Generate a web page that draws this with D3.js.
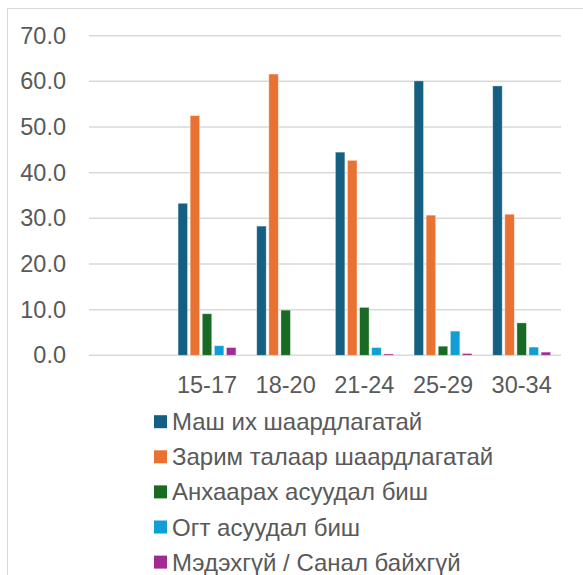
<!DOCTYPE html>
<html>
<head>
<meta charset="utf-8">
<script src="https://cdn.jsdelivr.net/npm/d3@7"></script>
<style>
  html, body { margin: 0; padding: 0; background: #fff; }
  svg { display: block; font-family: "Liberation Sans", Arial, sans-serif; }
</style>
</head>
<body>
<div id="chart"></div>
<script>
// age groups (the first slot is empty in the original)
const categories = ["", "15-17", "18-20", "21-24", "25-29", "30-34"];
const seriesNames = [
  "Маш их шаардлагатай",
  "Зарим талаар шаардлагатай",
  "Анхаарах асуудал биш",
  "Огт асуудал биш",
  "Мэдэхгүй / Санал байхгүй"
];
const colors = ["#156082", "#e97132", "#196b24", "#0f9ed5", "#a02b93"];
// values per series, one per category
const veryNeeded   = [null, 33.3, 28.3, 44.5, 60.1, 59.0];
const someNeeded   = [null, 52.5, 61.6, 42.7, 30.7, 30.9];
const noAttention  = [null, 9.1, 9.9, 10.5, 2.0, 7.1];
const notAtAll     = [null, 2.1, 0, 1.7, 5.3, 1.8];
const dontKnow     = [null, 1.7, 0, 0.3, 0.4, 0.7];
const yTicks = [0, 10, 20, 30, 40, 50, 60, 70];

const seriesValues = [veryNeeded, someNeeded, noAttention, notAtAll, dontKnow];

const width = 583;
const height = 575;
const fontSize = "23.5px";

const svg = d3.select("#chart").append("svg")
  .attr("width", width)
  .attr("height", height);

// chart frame (cut off at right and bottom)
svg.append("rect")
  .attr("x", 7.5)
  .attr("y", 8.5)
  .attr("width", 700)
  .attr("height", 700)
  .attr("fill", "none")
  .attr("stroke", "#d9d9d9")
  .attr("stroke-width", 1);

const x0 = d3.scaleBand()
  .domain(categories)
  .range([89, 561]);

const x1 = d3.scaleBand()
  .domain(seriesNames)
  .range([x0.bandwidth() * 0.132, x0.bandwidth() * 0.868])
  .paddingInner(0.215);

const y = d3.scaleLinear()
  .domain([0, 70])
  .range([355.3, 35.7]);

// gridlines
svg.append("g")
  .selectAll("line")
  .data(yTicks)
  .enter()
    .append("line")
    .attr("x1", 89)
    .attr("x2", 561)
    .attr("y1", d => y(d))
    .attr("y2", d => y(d))
    .attr("stroke", "#d9d9d9")
    .attr("stroke-width", 1.5);

// y labels
svg.append("g")
  .selectAll("text")
  .data(yTicks)
  .enter()
    .append("text")
    .text(d => d.toFixed(1))
    .attr("x", 66)
    .attr("y", d => y(d))
    .attr("dominant-baseline", "central")
    .attr("fill", "#595959")
    .style("text-anchor", "end")
    .style("font-size", fontSize);

// bars
const group = svg.append("g")
  .selectAll("g")
  .data(categories.map((c, i) => ({ cat: c, i })))
  .enter()
    .append("g")
    .attr("transform", d => `translate(${x0(d.cat)},0)`);

group.selectAll("rect")
  .data(d => seriesNames.map((s, k) => ({ s, k, v: seriesValues[k][d.i] })).filter(e => e.v != null))
  .enter()
    .append("rect")
    .attr("x", d => x1(d.s))
    .attr("y", d => y(d.v))
    .attr("width", x1.bandwidth())
    .attr("height", d => y(0) - y(d.v))
    .attr("fill", d => colors[d.k])
    .attr("stroke", "#ffffff")
    .attr("stroke-opacity", 0.5)
    .attr("stroke-width", 0.75);

// x labels
svg.append("g")
  .selectAll("text")
  .data(categories)
  .enter()
    .append("text")
    .text(d => d)
    .attr("x", d => x0(d) + x0.bandwidth() / 2)
    .attr("y", 384.5)
    .attr("dominant-baseline", "central")
    .attr("fill", "#595959")
    .style("text-anchor", "middle")
    .style("font-size", fontSize);

// legend
const legend = svg.append("g")
  .selectAll("g")
  .data(seriesNames)
  .enter()
    .append("g")
    .attr("transform", (d, i) => `translate(154,${421.7 + i * 35.1})`);

legend.append("rect")
  .attr("x", 0)
  .attr("y", -6.5)
  .attr("width", 13)
  .attr("height", 13)
  .attr("fill", (d, i) => colors[i]);

legend.append("text")
  .text(d => d)
  .attr("x", 18)
  .attr("y", 0)
  .attr("dominant-baseline", "central")
  .attr("fill", "#595959")
  .style("font-size", "24px");
</script>
</body>
</html>
